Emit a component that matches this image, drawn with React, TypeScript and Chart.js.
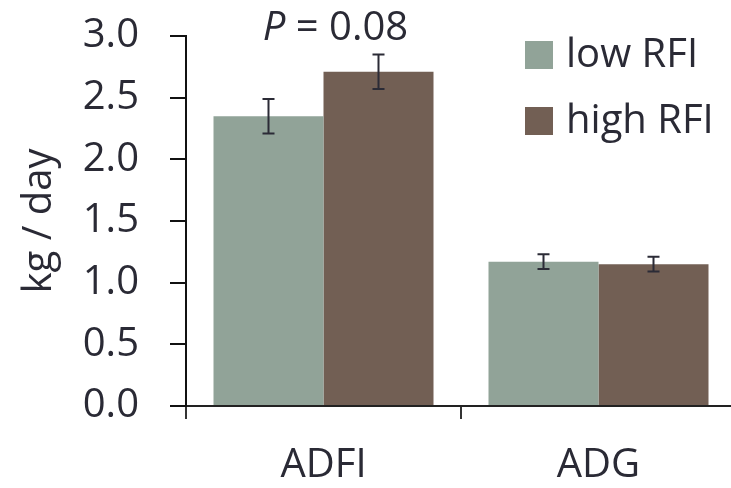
import React, { useEffect, useRef } from "react";
import { Chart, registerables } from "chart.js";

Chart.register(...registerables);

const categories = ["ADFI", "ADG"];
const seriesNames = ["low RFI", "high RFI"];
const lowValues = [2.35, 1.17];
const highValues = [2.71, 1.15];
const lowErrors = [0.14, 0.06];
const highErrors = [0.14, 0.06];
const yTicks = [0, 0.5, 1, 1.5, 2, 2.5, 3];
const annotationP = "P";
const annotationRest = " = 0.08";

const LOW_COLOR = "#91a398";
const HIGH_COLOR = "#725f54";
const TEXT_COLOR = "#2a2a35";
const FONT_FAMILY = "'Open Sans', 'Noto Sans', sans-serif";

const errorBarPlugin = {
  id: "errorBars",
  afterDatasetsDraw(chart: any) {
    const ctx = chart.ctx;
    const yScale = chart.scales.y;
    const errs = [lowErrors, highErrors];
    ctx.save();
    ctx.strokeStyle = "#2b2b36";
    ctx.lineWidth = 2;
    chart.data.datasets.forEach((ds: any, di: number) => {
      const meta = chart.getDatasetMeta(di);
      meta.data.forEach((bar: any, i: number) => {
        const v = ds.data[i];
        const e = errs[di][i];
        const x = bar.x;
        const yTop = yScale.getPixelForValue(v + e);
        const yBot = yScale.getPixelForValue(v - e);
        ctx.beginPath();
        ctx.moveTo(x, yTop);
        ctx.lineTo(x, yBot);
        ctx.moveTo(x - 6, yTop);
        ctx.lineTo(x + 6, yTop);
        ctx.moveTo(x - 6, yBot);
        ctx.lineTo(x + 6, yBot);
        ctx.stroke();
      });
    });
    ctx.restore();
  },
};

const overlayPlugin = {
  id: "overlay",
  afterDraw(chart: any) {
    const ctx = chart.ctx;
    ctx.save();
    // legend
    const colors = [LOW_COLOR, HIGH_COLOR];
    const legendYs = [55, 121];
    ctx.font = `40px ${FONT_FAMILY}`;
    ctx.textBaseline = "middle";
    ctx.textAlign = "left";
    seriesNames.forEach((name, i) => {
      ctx.fillStyle = colors[i];
      ctx.fillRect(525, legendYs[i] - 14, 28, 28);
      ctx.fillStyle = TEXT_COLOR;
      ctx.fillText(name, 566, legendYs[i] + 1);
    });
    // P annotation
    const xScale = chart.scales.x;
    const cx = xScale.getPixelForValue(0) + 12;
    ctx.font = `italic 40px ${FONT_FAMILY}`;
    const wP = ctx.measureText(annotationP).width;
    ctx.font = `40px ${FONT_FAMILY}`;
    const wR = ctx.measureText(annotationRest).width;
    const start = cx - (wP + wR) / 2;
    ctx.fillStyle = TEXT_COLOR;
    ctx.font = `italic 40px ${FONT_FAMILY}`;
    ctx.fillText(annotationP, start, 29);
    ctx.font = `40px ${FONT_FAMILY}`;
    ctx.fillText(annotationRest, start + wP, 29);
    ctx.restore();
  },
};

export default function App() {
  const canvasRef = useRef<HTMLCanvasElement | null>(null);

  useEffect(() => {
    if (!canvasRef.current) return;
    const chart = new Chart(canvasRef.current, {
      type: "bar",
      data: {
        labels: categories,
        datasets: [
          {
            label: seriesNames[0],
            data: lowValues,
            backgroundColor: LOW_COLOR,
            borderWidth: 0,
            categoryPercentage: 0.8,
            barPercentage: 1,
          },
          {
            label: seriesNames[1],
            data: highValues,
            backgroundColor: HIGH_COLOR,
            borderWidth: 0,
            categoryPercentage: 0.8,
            barPercentage: 1,
          },
        ],
      },
      options: {
        responsive: false,
        animation: false,
        layout: { padding: { top: 36, right: 0, left: 0, bottom: 0 } },
        plugins: {
          legend: { display: false },
          tooltip: { enabled: false },
        },
        scales: {
          x: {
            type: "category",
            offset: true,
            grid: {
              offset: true,
              drawOnChartArea: false,
              drawTicks: true,
              tickLength: 13,
              color: "#333333",
              lineWidth: 2,
            },
            border: { display: true, color: "#222222", width: 2 },
            ticks: {
              font: { family: FONT_FAMILY, size: 40 },
              color: TEXT_COLOR,
              padding: 23,
              maxRotation: 0,
            },
            afterFit(scale: any) {
              scale.height = 82;
              scale.paddingLeft = 0;
              scale.paddingRight = 0;
            },
          },
          y: {
            min: 0,
            max: 3,
            afterBuildTicks(scale: any) {
              scale.ticks = yTicks.map((v) => ({ value: v }));
            },
            grid: {
              drawOnChartArea: false,
              drawTicks: true,
              tickLength: 16,
              color: "#111111",
              lineWidth: 2,
            },
            border: { display: true, color: "#111111", width: 2 },
            ticks: {
              font: { family: FONT_FAMILY, size: 40 },
              color: TEXT_COLOR,
              padding: 31,
              callback: (v: any) => Number(v).toFixed(1),
            },
            title: {
              display: true,
              text: "kg / day",
              font: { family: FONT_FAMILY, size: 40 },
              color: TEXT_COLOR,
              padding: { top: 16, bottom: 0 },
            },
            afterFit(scale: any) {
              scale.width = 186;
              scale.paddingTop = 0;
              scale.paddingBottom = 0;
            },
          },
        },
      },
      plugins: [errorBarPlugin, overlayPlugin],
    });
    return () => chart.destroy();
  }, []);

  return (
    <div style={{ position: "absolute", left: 0, top: 0, width: 731, height: 488, overflow: "hidden", background: "#fff" }}>
      <canvas ref={canvasRef} width={736} height={488} />
    </div>
  );
}
